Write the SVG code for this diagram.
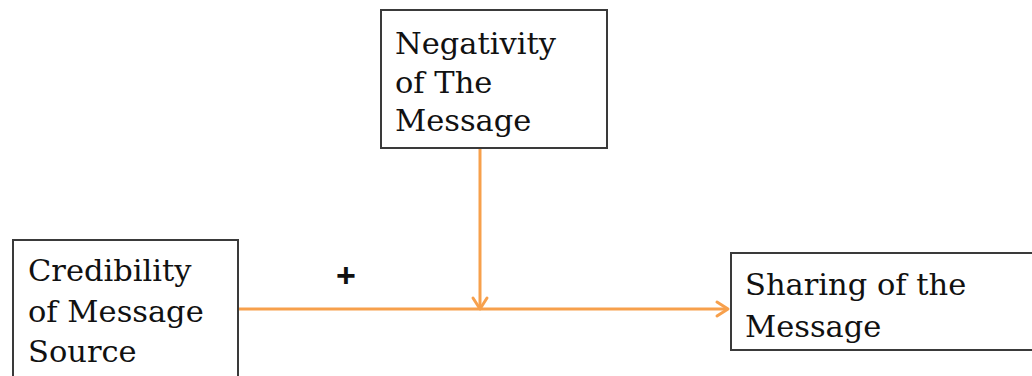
<svg xmlns="http://www.w3.org/2000/svg" width="1032" height="376" viewBox="0 0 1032 376">
<style>
.box{fill:#fff;stroke:#3a3a3a;stroke-width:2}
.t{font-family:"DejaVu Serif","Liberation Serif",serif;font-size:30.5px;fill:#111}
.c{stroke:#f7a04c;stroke-width:3;fill:none}
.h{stroke:#f7a04c;stroke-width:3;fill:none;stroke-linecap:round;stroke-linejoin:round}
</style>
<rect width="1032" height="376" fill="#fff"/>
<g id="connectors">
<line class="c" x1="480" y1="148" x2="480" y2="308"/>
<polyline class="h" points="473,298 480,309 487,298"/>
<line class="c" x1="238" y1="309" x2="727" y2="309"/>
<polyline class="h" points="717,302 728,309 717,316"/>
<text x="346" y="287" font-family="Liberation Sans, Arial, sans-serif" font-size="34" font-weight="bold" text-anchor="middle" fill="#111">+</text>
</g>
<g id="negativity">
<rect class="box" x="381" y="10" width="226" height="138"/>
<text class="t" x="395" y="54">Negativity</text>
<text class="t" x="395" y="93">of The</text>
<text class="t" x="395" y="131">Message</text>
</g>
<g id="credibility">
<rect class="box" x="13" y="240" width="225" height="150"/>
<text class="t" x="28" y="281">Credibility</text>
<text class="t" x="28" y="322">of Message</text>
<text class="t" x="28" y="362">Source</text>
</g>
<g id="sharing">
<rect class="box" x="731" y="253" width="320" height="97"/>
<text class="t" x="745" y="295">Sharing of the</text>
<text class="t" x="745" y="337">Message</text>
</g>
</svg>
